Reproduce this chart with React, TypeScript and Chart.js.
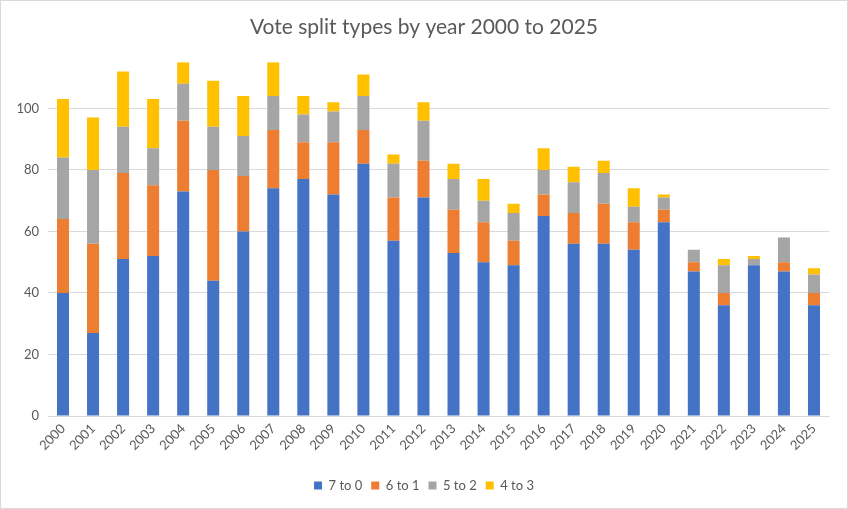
import React, { useEffect, useRef } from "react";
import { Chart, registerables } from "chart.js";

Chart.register(...registerables);

const years = [
  "2000", "2001", "2002", "2003", "2004", "2005", "2006", "2007", "2008", "2009",
  "2010", "2011", "2012", "2013", "2014", "2015", "2016", "2017", "2018", "2019",
  "2020", "2021", "2022", "2023", "2024", "2025",
];
const sevenToZero = [40, 27, 51, 52, 73, 44, 60, 74, 77, 72, 82, 57, 71, 53, 50, 49, 65, 56, 56, 54, 63, 47, 36, 49, 47, 36];
const sixToOne = [24, 29, 28, 23, 23, 36, 18, 19, 12, 17, 11, 14, 12, 14, 13, 8, 7, 10, 13, 9, 4, 3, 4, 0, 3, 4];
const fiveToTwo = [20, 24, 15, 12, 12, 14, 13, 11, 9, 10, 11, 11, 13, 10, 7, 9, 8, 10, 10, 5, 4, 4, 9, 2, 8, 6];
const fourToThree = [19, 17, 18, 16, 7, 15, 13, 11, 6, 3, 7, 3, 6, 5, 7, 3, 7, 5, 4, 6, 1, 0, 2, 1, 0, 2];
const seriesNames = ["7 to 0", "6 to 1", "5 to 2", "4 to 3"];
const seriesColors = ["#4472C4", "#ED7D31", "#A5A5A5", "#FFC000"];
const titleText = "Vote split types by year 2000 to 2025";

const FONT = "Lato, 'Open Sans', sans-serif";
const TEXT = "#595959";
const GRID = "#d9d9d9";

export default function App() {
  const ref = useRef<HTMLCanvasElement | null>(null);

  useEffect(() => {
    document.body.style.margin = "0";
    if (!ref.current) return;
    const values = [sevenToZero, sixToOne, fiveToTwo, fourToThree];
    const chart = new Chart(ref.current, {
      type: "bar",
      data: {
        labels: years,
        datasets: values.map((v, i) => ({
          label: seriesNames[i],
          data: v,
          backgroundColor: seriesColors[i],
          borderWidth: 0,
          barPercentage: 0.4,
          categoryPercentage: 1,
        })),
      },
      options: {
        animation: false,
        responsive: true,
        maintainAspectRatio: false,
        layout: { padding: { left: 0, right: 0, top: 0, bottom: 6 } },
        plugins: {
          title: {
            display: true,
            text: titleText,
            color: TEXT,
            font: { family: FONT, size: 21, weight: "normal" },
            padding: { top: 14, bottom: 22 },
          },
          legend: {
            position: "bottom",
            labels: {
              color: TEXT,
              font: { family: FONT, size: 13 },
              boxWidth: 8,
              boxHeight: 8,
              padding: 9,
            },
          },
          tooltip: { enabled: false },
        },
        scales: {
          x: {
            stacked: true,
            grid: { display: false, drawTicks: false },
            border: { display: true, color: GRID },
            ticks: {
              color: TEXT,
              font: { family: FONT, size: 13 },
              minRotation: 45,
              maxRotation: 45,
              autoSkip: false,
              padding: 5,
            },
            afterFit: (scale: any) => {
              scale.height = 54;
            },
          },
          y: {
            stacked: true,
            min: 0,
            max: 115,
            grid: { color: GRID, drawTicks: false },
            border: { display: false },
            ticks: {
              stepSize: 20,
              includeBounds: false,
              color: TEXT,
              font: { family: FONT, size: 13 },
              padding: 9,
            },
            afterFit: (scale: any) => {
              scale.width = 47;
            },
          },
          spacer: {
            type: "linear",
            position: "right",
            display: true,
            grid: { display: false, drawTicks: false },
            border: { display: false },
            ticks: { display: false },
            afterFit: (scale: any) => {
              scale.width = 18;
            },
          },
        },
      },
    });
    return () => chart.destroy();
  }, []);

  return (
    <div
      style={{
        position: "absolute",
        left: 0,
        top: 0,
        width: 848,
        height: 509,
        boxSizing: "border-box",
        border: "1px solid #d9d9d9",
        background: "#fff",
      }}
    >
      <canvas ref={ref} />
    </div>
  );
}
